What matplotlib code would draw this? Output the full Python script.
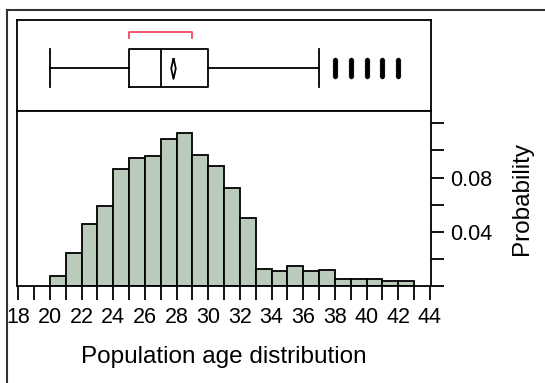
import numpy as np
import matplotlib
matplotlib.use('Agg')
import matplotlib.pyplot as plt
from matplotlib.path import Path
from matplotlib.transforms import Affine2D
from matplotlib.lines import Line2D

plt.rcParams['font.family'] = ['Liberation Sans', 'DejaVu Sans']

# 直方图数据：每个年龄区间(宽1)的概率
bin_left = [20, 21, 22, 23, 24, 25, 26, 27, 28, 29, 30, 31,
            32, 33, 34, 35, 36, 37, 38, 39, 40, 41, 42]
prob = [0.0072, 0.0246, 0.0456, 0.0589, 0.0860, 0.0946, 0.0961, 0.1081,
        0.1126, 0.0963, 0.0887, 0.0724, 0.0505, 0.0128, 0.0110, 0.0148,
        0.0110, 0.0115, 0.0054, 0.0054, 0.0054, 0.0039, 0.0039]

# 箱线图统计量
whisker_lo, q1, median, q3, whisker_hi = 20, 25, 27, 30, 37
mean_age = 27.75
outliers = [38, 39, 40, 41, 42]
short_half = [25, 29]   # 最短半区间（红色括号）

x_ticks = list(range(18, 45, 1))
x_labels = [str(v) if v % 2 == 0 else '' for v in x_ticks]
y_ticks = [0, 0.02, 0.04, 0.06, 0.08, 0.10, 0.12]
y_labels = ['', '', '0.04', '', '0.08', '', '']

W, H = 545, 383
fig = plt.figure(figsize=(W / 100, H / 100), dpi=100)

# 外框（只露出左边和上边）
fig.add_artist(Line2D([7 / W, 7 / W], [0, 1 - 10 / H], transform=fig.transFigure,
                      color='#333333', linewidth=1.5))
fig.add_artist(Line2D([7 / W, 1], [1 - 10 / H, 1 - 10 / H], transform=fig.transFigure,
                      color='#333333', linewidth=1.5))

left, right = 16.7 / W, 431 / W
ax_box = fig.add_axes([left, 1 - 111 / H, right - left, 91 / H])
ax = fig.add_axes([left, 1 - 286 / H, right - left, 175 / H], sharex=ax_box)

# 直方图
ax.bar(bin_left, prob, width=1, align='edge', color='#bacbbc',
       edgecolor='black', linewidth=1.3)
ax.set_xlim(17.9, 44.07)
ax.set_ylim(0, 0.1291)
ax.set_xticks(x_ticks)
ax.set_xticklabels(x_labels)
ax.set_yticks(y_ticks)
ax.set_yticklabels(y_labels)
ax.yaxis.tick_right()
ax.yaxis.set_label_position('right')
ax.tick_params(axis='x', length=10, width=1.3, pad=5, labelsize=15.5)
ax.tick_params(axis='y', length=9.5, width=1.3, pad=4, labelsize=15.5)
ax.set_xlabel('Population age distribution', fontsize=17.5, labelpad=13)
ax.set_ylabel('Probability', fontsize=17.5, labelpad=14)
for sp in ax.spines.values():
    sp.set_linewidth(1.3)

# 箱线图
mean_marker = [(0, 1), (0.22, 0), (0, -1), (-0.22, 0), (0, 1)]
dots = [Path.unit_circle().transformed(Affine2D().scale(0.5, 0.72).translate(0, c))
        for c in (-1.5, -0.5, 0.5, 1.5)]
flier_marker = Path.make_compound_path(*dots)

stats = [dict(med=median, q1=q1, q3=q3, whislo=whisker_lo, whishi=whisker_hi,
              mean=mean_age, fliers=outliers)]
lp = dict(color='black', linewidth=1.3)
ax_box.bxp(stats, positions=[0.475], widths=0.42, capwidths=0.42,
           orientation='horizontal', showmeans=True,
           boxprops=lp, whiskerprops=lp, capprops=lp, medianprops=lp,
           meanprops=dict(marker=mean_marker, markersize=15,
                          markerfacecolor='white', markeredgecolor='black',
                          markeredgewidth=1.3),
           flierprops=dict(marker=flier_marker, markersize=15,
                           markerfacecolor='black', markeredgecolor='black',
                           markeredgewidth=0.5))
ax_box.plot([short_half[0], short_half[0], short_half[1], short_half[1]],
            [0.802, 0.868, 0.868, 0.802], color='#ee4b63', linewidth=1.3)
ax_box.set_ylim(0, 1)
ax_box.tick_params(left=False, bottom=False, labelleft=False, labelbottom=False)
for sp in ax_box.spines.values():
    sp.set_linewidth(1.3)

plt.savefig('out.png', dpi=100)
